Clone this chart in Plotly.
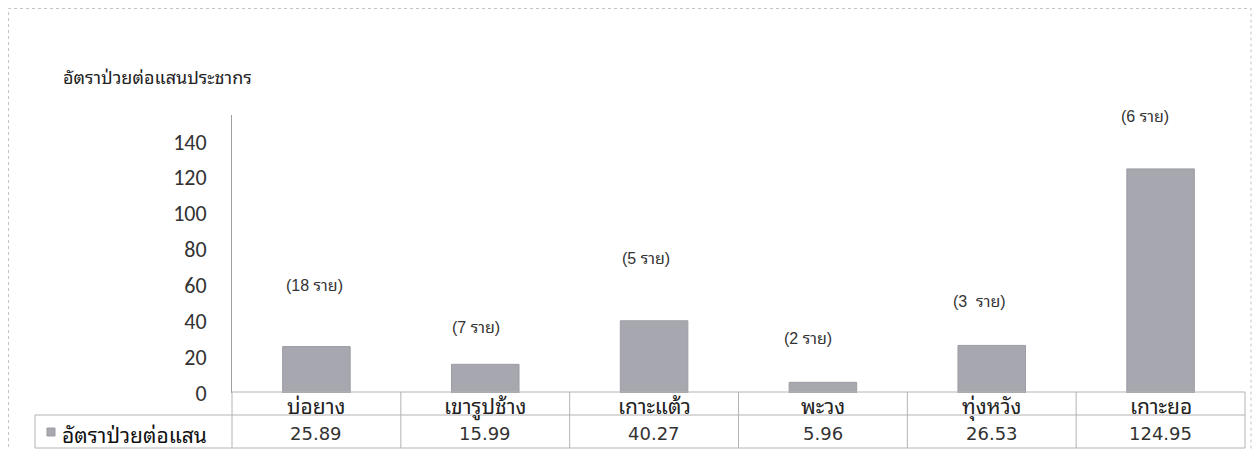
import plotly.graph_objects as go

# ---- data ----
categories = ["บ่อยาง", "เขารูปช้าง", "เกาะแต้ว", "พะวง", "ทุ่งหวัง", "เกาะยอ"]
rates = [25.89, 15.99, 40.27, 5.96, 26.53, 124.95]
rate_text = ["25.89", "15.99", "40.27", "5.96", "26.53", "124.95"]
case_labels = ["(18 ราย)", "(7 ราย)", "(5 ราย)", "(2 ราย)", "(3  ราย)", "(6 ราย)"]
y_ticks = [0, 20, 40, 60, 80, 100, 120, 140]
series_name = "อัตราป่วยต่อแสน"
chart_title = "อัตราป่วยต่อแสนประชากร"

# ---- layout geometry (page pixels; the page body has an 8px margin) ----
PAD = 8
W, H = 1260 - 2 * PAD, 457 - 2 * PAD
L, R, T, B = 232, 1245, 115, 393          # plot area in page pixels
PW, PH = R - L, B - T


def px(x):
    return (x - L) / PW


def py(y):
    return (B - y) / PH


THAI = ("'Noto Sans Thai Looped', Tahoma, Loma, Garuda, 'Noto Sans Thai', "
        "'Noto Sans', 'DejaVu Sans', sans-serif")
NUM = "Verdana, 'DejaVu Sans', " + THAI
BAR = "#a7a7b0"
GRID = "#b4b4b4"

# case-count label offsets (pixels relative to bar top)
lab_dy = [61, 37, 62, 44, 44, 52]
lab_dx = [-2, -9, -8, -15, -12, -16]

fig = go.Figure()
fig.add_trace(go.Bar(
    x=categories, y=rates, name=series_name,
    marker=dict(color=BAR, line=dict(color="#9c9ca4", width=1)),
    showlegend=False, hoverinfo="x+y",
))

shapes = []
# outer frame
shapes.append(dict(type="rect", xref="paper", yref="paper",
                   x0=px(PAD + 0.5), x1=px(PAD + W - 1), y0=py(PAD + H + 5), y1=py(PAD + 0.5),
                   line=dict(color="#c4c4c4", width=1, dash="dot")))
# data table lines
row_top, row_mid, row_bot = 392, 415, 448
for yy in (row_top, row_mid, row_bot):
    shapes.append(dict(type="line", xref="paper", yref="paper",
                       x0=0, x1=1, y0=py(yy), y1=py(yy),
                       line=dict(color=GRID, width=1)))
for k in range(0, 7):
    shapes.append(dict(type="line", xref="paper", yref="paper",
                       x0=k / 6, x1=k / 6, y0=py(row_top), y1=py(row_bot),
                       line=dict(color=GRID, width=1)))
# legend cell
for yy in (row_mid, row_bot):
    shapes.append(dict(type="line", xref="paper", yref="paper",
                       x0=px(35), x1=0, y0=py(yy), y1=py(yy),
                       line=dict(color=GRID, width=1)))
shapes.append(dict(type="line", xref="paper", yref="paper",
                   x0=px(35), x1=px(35), y0=py(row_mid), y1=py(row_bot),
                   line=dict(color=GRID, width=1)))
# legend key
shapes.append(dict(type="rect", xref="paper", yref="paper",
                   x0=px(47), x1=px(55), y0=py(436), y1=py(428),
                   fillcolor=BAR, line=dict(color="#9c9ca4", width=1)))

annotations = []
annotations.append(dict(text=chart_title, xref="paper", yref="paper",
                        x=px(61), y=py(76), xanchor="left", yanchor="middle",
                        showarrow=False, font=dict(family=THAI, size=18, color="#222")))
for i, c in enumerate(categories):
    annotations.append(dict(text=c, xref="x", yref="paper", x=c, y=py(404),
                            xanchor="center", yanchor="middle", showarrow=False,
                            font=dict(family=THAI, size=21, color="#222")))
    annotations.append(dict(text=rate_text[i], xref="x", yref="paper", x=c, y=py(433),
                            xanchor="center", yanchor="middle", showarrow=False,
                            font=dict(family=NUM, size=18, color="#333")))
    annotations.append(dict(text=case_labels[i], xref="x", yref="y", x=c, y=rates[i],
                            xanchor="center", yanchor="middle", showarrow=False,
                            xshift=lab_dx[i], yshift=lab_dy[i],
                            font=dict(family="Arial, 'Liberation Sans', " + THAI, size=16, color="#333")))
annotations.append(dict(text=series_name, xref="paper", yref="paper",
                        x=px(60), y=py(433), xanchor="left", yanchor="middle",
                        showarrow=False, font=dict(family=THAI, size=21, color="#111")))

fig.update_layout(
    width=W, height=H,
    margin=dict(l=L - PAD, r=PAD + W - R, t=T - PAD, b=PAD + H - B, pad=0),
    paper_bgcolor="white", plot_bgcolor="white",
    bargap=0.6,
    xaxis=dict(range=[-0.5, 5.5], showticklabels=False, showgrid=False,
               zeroline=False, showline=False, ticks=""),
    yaxis=dict(range=[0, 155], tickvals=y_ticks, showgrid=False, zeroline=False,
               showline=True, linecolor="#a0a0a0", linewidth=1, ticks="",
               ticklabelstandoff=20,
               tickfont=dict(family="Carlito, Calibri, 'DejaVu Sans', sans-serif", size=22, color="#333")),
    shapes=shapes, annotations=annotations,
)

fig.write_html("out.html")
